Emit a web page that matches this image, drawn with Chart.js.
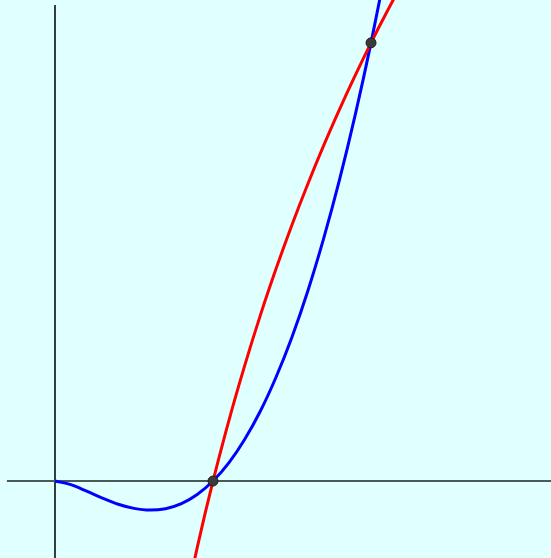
<!DOCTYPE html>
<html>
<head>
<meta charset="utf-8">
<script src="https://cdn.jsdelivr.net/npm/chart.js@4.4.0/dist/chart.umd.min.js"></script>
<style>
    html, body { margin: 0; padding: 0; background: #e0ffff; }
    #wrap { width: 551px; height: 558px; position: relative; }
</style>
</head>
<body>
<div id="wrap"><canvas id="plot"></canvas></div>
<script>
// Blue curve
const blueX = [0, 0.1, 0.2, 0.3, 0.4, 0.5, 0.6, 0.7, 0.8, 0.9, 1.0, 1.1, 1.2, 1.3, 1.4, 1.5, 1.6, 1.7, 1.8, 1.9, 2.0, 2.1];
const blueY = [0, -0.023, -0.064, -0.108, -0.147, -0.173, -0.184, -0.175, -0.143, -0.085, 0, 0.115, 0.263, 0.443, 0.660, 0.912, 1.203, 1.534, 1.904, 2.317, 2.773, 3.272];

// Red curve
const redX = [0.85, 0.9, 0.95, 1.0, 1.1, 1.2, 1.3, 1.4, 1.5, 1.6, 1.7, 1.8, 1.9, 2.0, 2.1, 2.2];
const redY = [-0.650, -0.421, -0.205, 0, 0.381, 0.729, 1.050, 1.346, 1.622, 1.880, 2.123, 2.351, 2.567, 2.773, 2.968, 3.154];

// Intersection points
const meetX = [1, 2];
const meetY = [0, 2.773];

// Visible window and axis extents
const xRange = [-0.348, 3.139];
const yRange = [-0.487, 3.044];
const xAxisFrom = -0.304;
const yAxisTop = 3.013;

function toPoints(xs, ys) {
    return xs.map((x, i) => ({ x: x, y: ys[i] }));
}

const curveStyle = {
    showLine: true,
    pointRadius: 0,
    borderWidth: 3,
    cubicInterpolationMode: 'monotone',
    fill: false
};

new Chart(document.getElementById('plot'), {
    type: 'scatter',
    data: {
        datasets: [
            {
                data: toPoints(meetX, meetY),
                pointRadius: 5,
                pointBackgroundColor: '#3a3a3a',
                pointBorderColor: '#1e1e1e',
                pointBorderWidth: 1,
                order: 0
            },
            { ...curveStyle, data: toPoints(redX, redY), borderColor: '#ff0000', order: 1 },
            { ...curveStyle, data: toPoints(blueX, blueY), borderColor: '#0000ff', order: 2 },
            {
                data: [{ x: xAxisFrom, y: 0 }, { x: xRange[1], y: 0 }],
                showLine: true, pointRadius: 0, borderWidth: 2, borderColor: '#4a5a5a', order: 3
            },
            {
                data: [{ x: 0, y: yAxisTop }, { x: 0, y: yRange[0] }],
                showLine: true, pointRadius: 0, borderWidth: 1.6, borderColor: '#0e0e0e', order: 3
            }
        ]
    },
    options: {
        responsive: true,
        maintainAspectRatio: false,
        animation: false,
        layout: { padding: 0, autoPadding: false },
        plugins: { legend: { display: false }, tooltip: { enabled: false } },
        scales: {
            x: { type: 'linear', min: xRange[0], max: xRange[1], display: false },
            y: { type: 'linear', min: yRange[0], max: yRange[1], display: false }
        }
    }
});
</script>
</body>
</html>
